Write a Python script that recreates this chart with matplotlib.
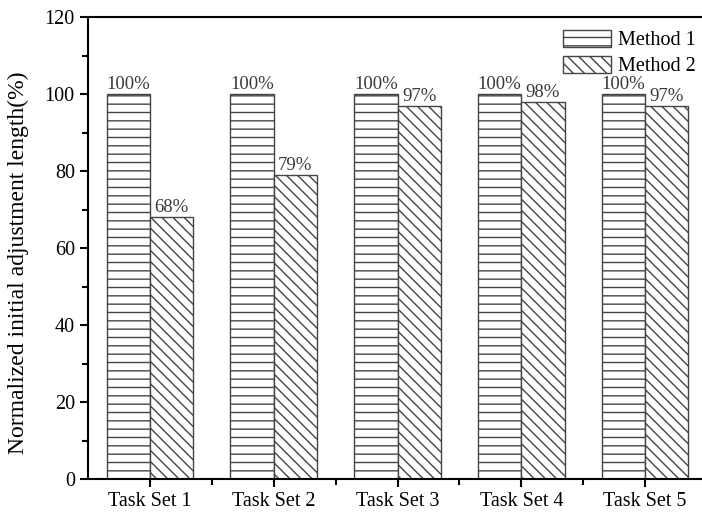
import numpy as np
import matplotlib.pyplot as plt
from matplotlib.ticker import MultipleLocator, FixedLocator

# Normalized initial adjustment length for each task set
task_sets = ['Task Set 1', 'Task Set 2', 'Task Set 3', 'Task Set 4', 'Task Set 5']
method1 = [100, 100, 100, 100, 100]
method2 = [68, 79, 97, 98, 97]

plt.rcParams['font.family'] = ['Liberation Serif', 'DejaVu Serif']
plt.rcParams['hatch.linewidth'] = 1.0
plt.rcParams['hatch.color'] = '#555555'

fig = plt.figure(figsize=(7.02, 5.15), dpi=100)
ax = fig.add_axes([88 / 702, 1 - 479 / 515, 619 / 702, 462 / 515])

x = np.arange(1, len(task_sets) + 1)
w = 0.35
b1 = ax.bar(x - w / 2, method1, w, facecolor='white', edgecolor='#444444',
            hatch='--', linewidth=1.0, label='Method 1')
b2 = ax.bar(x + w / 2, method2, w, facecolor='white', edgecolor='#444444',
            hatch='\\\\\\', linewidth=1.0, label='Method 2')

for rects, vals in ((b1, method1), (b2, method2)):
    for r, v in zip(rects, vals):
        ax.text(r.get_x() + r.get_width() / 2, v + 0.2, f'{v}%',
                ha='center', va='bottom', fontsize=13.5, color='#3a3a3a')

ax.set_xlim(0.5, 5.5)
ax.set_ylim(0, 120)
ax.set_xticks(x)
ax.set_xticklabels(task_sets)
ax.xaxis.set_minor_locator(FixedLocator(x[:-1] + 0.5))
ax.yaxis.set_major_locator(MultipleLocator(20))
ax.yaxis.set_minor_locator(MultipleLocator(10))
ax.tick_params(which='major', direction='out', length=6, width=1.5,
               labelsize=14.5, top=False, right=False)
ax.tick_params(which='minor', direction='out', length=4, width=1.5,
               top=False, right=False)
for s in ax.spines.values():
    s.set_linewidth(1.5)

ax.set_ylabel('Normalized initial adjustment length(%)', fontsize=17)
ax.yaxis.set_label_coords(-0.095, 0.468)

ax.legend(loc='upper right', bbox_to_anchor=(702 / 707 + 0.008, 0.998),
          frameon=False, fontsize=14.5, handlelength=2.35, handleheight=0.9,
          labelspacing=0.28, borderaxespad=0.2, handletextpad=0.35)

fig.savefig('out.png', dpi=100)
